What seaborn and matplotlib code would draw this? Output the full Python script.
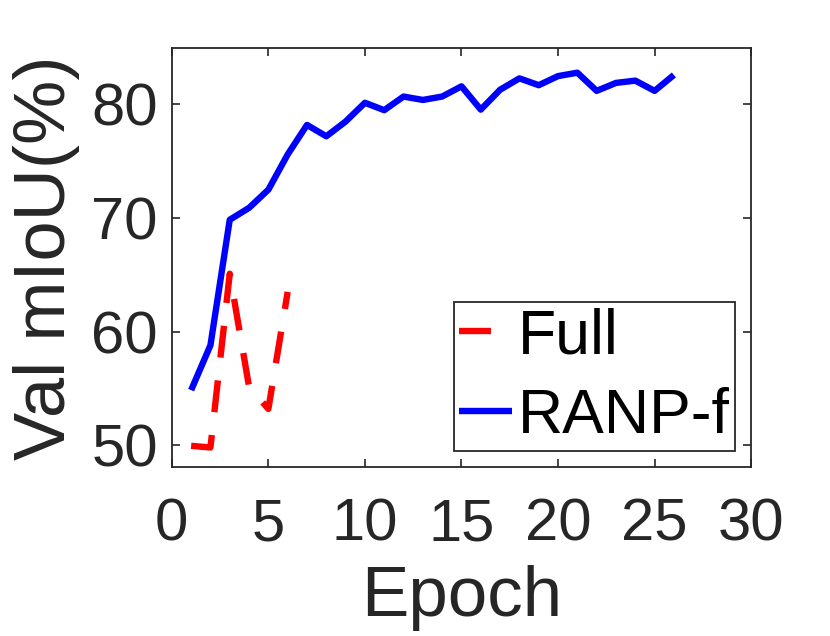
import pandas as pd
import seaborn as sns
import matplotlib.pyplot as plt

sns.set_theme(style='ticks')
plt.rcParams['font.family'] = ['Liberation Sans', 'DejaVu Sans']

# valori
epoci_full = [1, 2, 3, 4, 5, 6]
miou_full = [49.95, 49.8, 65.1, 55.15, 53.2, 63.5]

epoci_ranp = list(range(1, 27))
miou_ranp = [54.85, 58.8, 69.85, 70.9, 72.5, 75.6, 78.2, 77.2, 78.5, 80.15,
             79.5, 80.7, 80.4, 80.7, 81.6, 79.55, 81.3, 82.3, 81.7, 82.5,
             82.8, 81.2, 81.9, 82.1, 81.2, 82.6]

df = pd.concat([
    pd.DataFrame({'Epoch': epoci_full, 'mIoU': miou_full, 'Model': 'Full'}),
    pd.DataFrame({'Epoch': epoci_ranp, 'mIoU': miou_ranp, 'Model': 'RANP-f'}),
])

text_col = '#262626'
fig = plt.figure(figsize=(8.3, 6.36), dpi=100)
ax = fig.add_axes([0.207, 0.266, 0.698, 0.659])

sns.lineplot(data=df, x='Epoch', y='mIoU', hue='Model',
             palette={'Full': '#ff0000', 'RANP-f': '#0000ff'},
             legend=False, ax=ax)
# grosime si stil linii
for line, model in zip(ax.lines, ['Full', 'RANP-f']):
    line.set_linewidth(4.6)
    line.set_solid_capstyle('butt')
    line.set_dash_capstyle('butt')
    if model == 'Full':
        line.set_dashes((5.0, 3.6))
    line.set_label(model)

ax.set_xlim(0, 30)
ax.set_ylim(48.1, 85)
ax.set_xticks([0, 5, 10, 15, 20, 25, 30])
ax.set_yticks([50, 60, 70, 80])
ax.set_xlabel('Epoch', fontsize=51, color=text_col, labelpad=9)
ax.set_ylabel('Val mIoU(%)', fontsize=52, color=text_col, labelpad=8)
ax.tick_params(direction='in', length=6, width=1.2, labelsize=43,
               colors=text_col, top=True, right=True)
ax.tick_params(axis='x', pad=22)
ax.tick_params(axis='y', pad=10)
for s in ax.spines.values():
    s.set_visible(True)
    s.set_color(text_col)
    s.set_linewidth(1.3)

leg = ax.legend(loc='lower right', bbox_to_anchor=(0.972, 0.038),
                borderaxespad=0, fontsize=45, handlelength=0.85,
                handletextpad=0.1, labelspacing=0.33, borderpad=0.08,
                frameon=True, fancybox=False, framealpha=1)
leg.get_frame().set_edgecolor(text_col)
leg.get_frame().set_linewidth(1.3)
for t in leg.get_texts():
    t.set_color('black')

fig.savefig('out.png', dpi=100)
